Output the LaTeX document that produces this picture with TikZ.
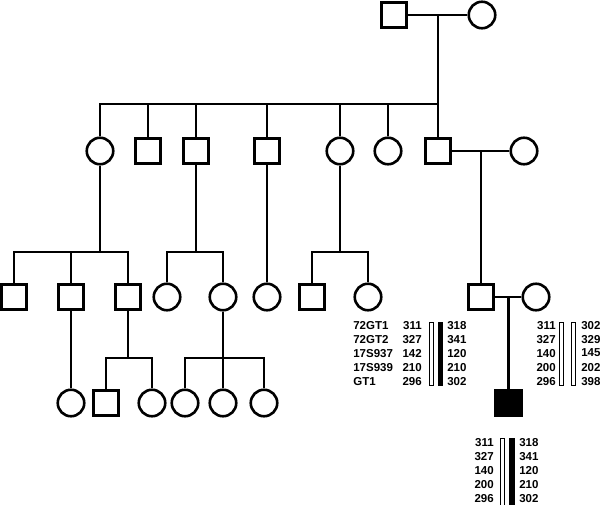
\documentclass[tikz,border=0pt]{standalone}
\usepackage{fontspec}
\setmainfont{Liberation Sans}
\usepackage{tikz}
\usetikzlibrary{calc}
\tikzset{
  male/.style={draw, rectangle, minimum size=25.5pt, inner sep=0pt},
  female/.style={draw, circle, minimum size=26.5pt, inner sep=0pt},
  affected/.style={male, fill=black},
  hap/.style={font=\bfseries\fontsize{11.5}{13}\selectfont, inner sep=0pt, text depth=0pt},
  openbar/.style={draw, line width=1.1pt, fill=white},
}

\begin{document}
\begin{tikzpicture}[x=1pt, y=-1pt, line width=2.6pt]
  \useasboundingbox (0,0) rectangle (600,504);
  % Generation I
  \node[male]   (I1) at (394,15) {};
  \node[female] (I2) at (482,15) {};
  % Generation II
  \node[female] (II1) at (100,151) {};
  \node[male]   (II2) at (148,151) {};
  \node[male]   (II3) at (196,151) {};
  \node[male]   (II4) at (267,151) {};
  \node[female] (II5) at (340,151) {};
  \node[female] (II6) at (388,151) {};
  \node[male]   (II7) at (438,151) {};
  \node[female] (II8) at (524,151) {};
  % Generation III
  \node[male]   (III1) at (14,297) {};
  \node[male]   (III2) at (71,297) {};
  \node[male]   (III3) at (128,297) {};
  \node[female] (III4) at (167,297) {};
  \node[female] (III5) at (223,297) {};
  \node[female] (III6) at (267,297) {};
  \node[male]   (III7) at (312,297) {};
  \node[female] (III8) at (368,297) {};
  \node[male]   (III9) at (481,297) {};
  \node[female] (III10) at (536,297) {};
  % Generation IV
  \node[female] (IV1) at (71,403) {};
  \node[male]   (IV2) at (106,403) {};
  \node[female] (IV3) at (152,403) {};
  \node[female] (IV4) at (185,403) {};
  \node[female] (IV5) at (223,403) {};
  \node[female] (IV6) at (264,403) {};
  \node[affected] (IV7) at (508.5,403) {};
  % Sibship junctions
  \coordinate (m1) at ($(I1)!0.5!(I2)$);
  \coordinate (s1) at (m1 |- 0,104);
  \coordinate (m2) at ($(II7)!0.5!(II8)$);
  \coordinate (m3) at ($(III9)!0.5!(III10)$);
  \coordinate (s2) at (100,252);
  \coordinate (s3) at (196,252);
  \coordinate (s4) at (340,252);
  \coordinate (s5) at (128,358);
  \coordinate (s6) at (223,358);
  % Lines of descent
  \draw (I1) -- (I2);
  \draw (m1) -- (s1);
  \draw (II1) |- (s1) -| (II7);
  \foreach \n in {II2,II3,II4,II5,II6} \draw (\n) -- (\n |- s1);
  \draw (II7) -- (II8);
  \draw (m2) -- (III9);
  \draw (III9) -- (III10);
  \draw (m3) -- (IV7);
  \draw (II1) -- (s2);
  \draw (III1) |- (s2) -| (III3);
  \draw (III2) -- (III2 |- s2);
  \draw (II3) -- (s3);
  \draw (III4) |- (s3) -| (III5);
  \draw (II4) -- (III6);
  \draw (II5) -- (s4);
  \draw (III7) |- (s4) -| (III8);
  \draw (III2) -- (IV1);
  \draw (III3) -- (s5);
  \draw (IV2) |- (s5) -| (IV3);
  \draw (III5) -- (s6);
  \draw (IV4) |- (s6) -| (IV6);
  \draw (IV5) -- (s6);
  % Haplotypes
  \foreach \lab [count=\i] in {72GT1,72GT2,17S937,17S939,GT1}
    \node[hap, anchor=west] (mk\i) at (352,311+14*\i) {\lab};
  \foreach \a/\b [count=\i] in {311/318,327/341,142/120,210/210,296/302} {
    \node[hap, anchor=east] (fa\i) at (423,311+14*\i) {\a};
    \node[hap, anchor=west] (fb\i) at (446,311+14*\i) {\b};
  }
  \foreach \a/\b [count=\i] in {311/302,327/329,140/145,200/202,296/398} {
    \node[hap, anchor=east] (ma\i) at (557,311+14*\i) {\a};
    \node[hap, anchor=west] (mb\i) at (580,311+14*\i) {\b};
  }
  \foreach \a/\b [count=\i] in {311/318,327/341,140/120,200/210,296/302} {
    \node[hap, anchor=east] (ca\i) at (495,428+14*\i) {\a};
    \node[hap, anchor=west] (cb\i) at (518,428+14*\i) {\b};
  }
  \draw[openbar] (429.5,322.5) rectangle (433.5,385.5);
  \fill (438,322) rectangle (443,386);
  \draw[openbar] (559.5,322.5) rectangle (563.5,385.5);
  \draw[openbar] (571.5,322.5) rectangle (575.5,385.5);
  \draw[openbar] (500.5,438.5) rectangle (504.5,515);
  \fill (509,438) rectangle (515,515);
\end{tikzpicture}
\end{document}
